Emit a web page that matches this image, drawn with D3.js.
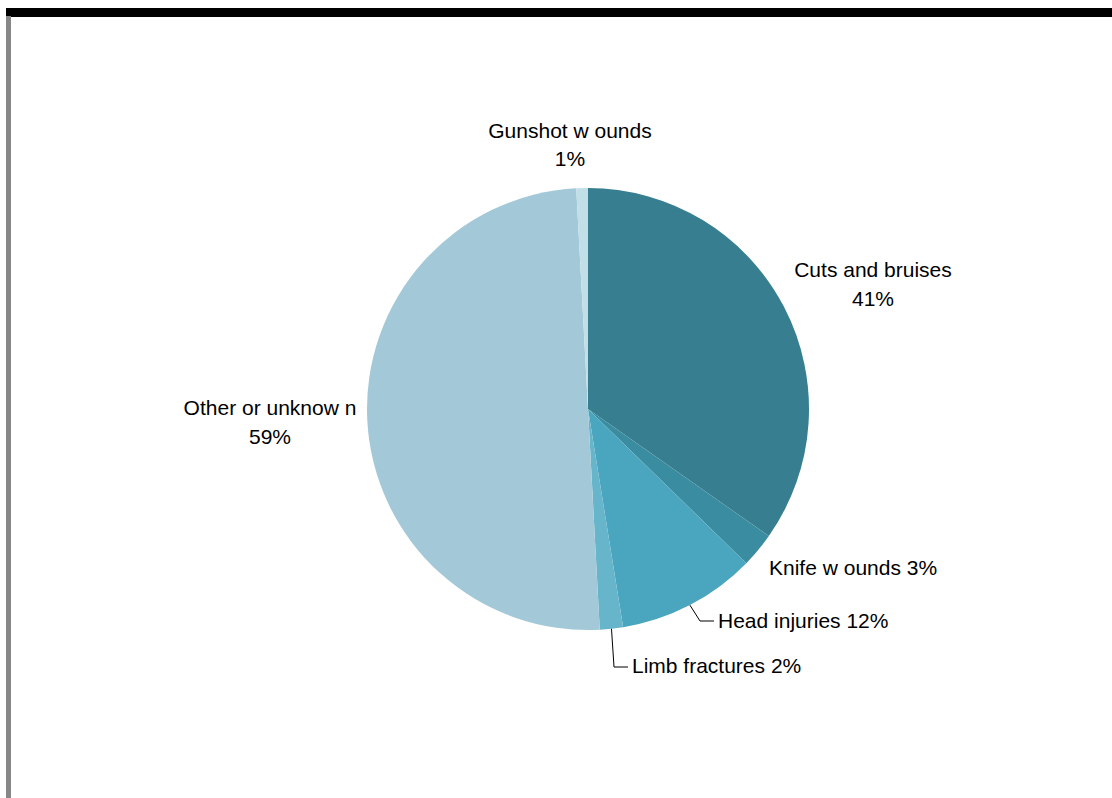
<!DOCTYPE html>
<html><head><meta charset="utf-8">
<script src="https://cdn.jsdelivr.net/npm/d3@7"></script>
<style>body{margin:0;background:#fff}svg{display:block}</style>
</head><body>
<script>
const categories = ["Cuts and bruises","Knife w ounds","Head injuries","Limb fractures","Other or unknow n","Gunshot w ounds"];
const values = [41,3,12,2,59,1];
const colors = ["#387E91","#3A8DA1","#4AA6BE","#67B5CA","#A3C9D8","#C2DEE7"];

const W=1112,H=798;
const svg=d3.select("body").append("svg").attr("width",W).attr("height",H);
svg.append("rect").attr("x",6).attr("y",8).attr("width",W-6).attr("height",9).attr("fill","#000");
svg.append("rect").attr("x",6).attr("y",16).attr("width",5).attr("height",H-16).attr("fill","#878787");

const cx=588, cy=409, r=221;
const pie=d3.pie().sort(null).value(d=>d)(values);
const arc=d3.arc().innerRadius(0).outerRadius(r);
const g=svg.append("g").attr("transform",`translate(${cx},${cy})`);
g.selectAll("path").data(pie).join("path").attr("d",arc).attr("fill",(d,i)=>colors[i]);

const font="'Liberation Sans', Arial, sans-serif";
const fs=21;
function txt(x,y,s,anchor){return svg.append("text").attr("x",x).attr("y",y).attr("text-anchor",anchor).attr("font-family",font).attr("font-size",fs).attr("fill","#000").text(s);}
// two-line labels
txt(570,138,categories[5],"middle"); txt(570,166,values[5]+"%","middle");
txt(873,277,categories[0],"middle"); txt(873,306,values[0]+"%","middle");
txt(270,415,categories[4],"middle"); txt(270,444,values[4]+"%","middle");
// single-line labels
txt(769,575,categories[1]+" "+values[1]+"%","start");
txt(718,628,categories[2]+" "+values[2]+"%","start");
txt(632,673,categories[3]+" "+values[3]+"%","start");

// leader lines from arc edges
function edge(i){const a=(pie[i].startAngle+pie[i].endAngle)/2;return [cx+Math.sin(a)*r, cy-Math.cos(a)*r];}
const e2=edge(2), e3=edge(3);
svg.append("polyline").attr("points",`${e2[0]},${e2[1]} 700,621 714,621`).attr("fill","none").attr("stroke","#000").attr("stroke-width",1);
svg.append("polyline").attr("points",`${e3[0]},${e3[1]} 614,667 628,667`).attr("fill","none").attr("stroke","#000").attr("stroke-width",1);
</script>
</body></html>
